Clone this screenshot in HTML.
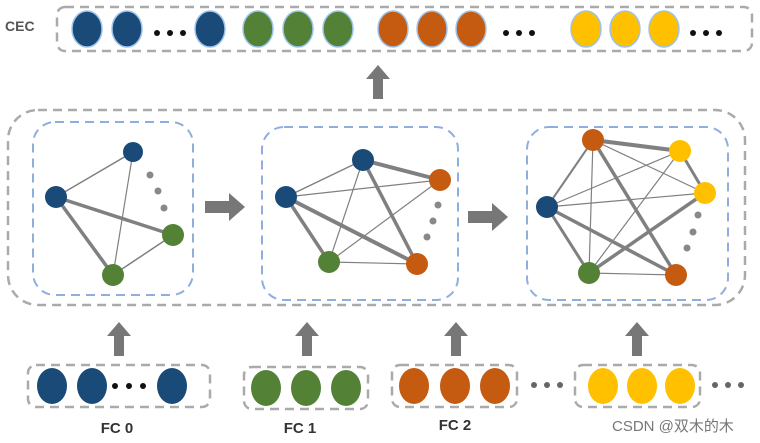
<!DOCTYPE html>
<html><head><meta charset="utf-8"><style>body{margin:0;background:#fff}svg{display:block}</style></head><body>
<svg width="760" height="443" viewBox="0 0 760 443" xmlns="http://www.w3.org/2000/svg" font-family="Liberation Sans, sans-serif">
<defs>
<g id="ua"><rect x="-5" y="12" width="10" height="22" fill="#777"/><polygon points="-12,14 0,0 12,14" fill="#777"/></g>
<g id="ra"><rect x="0" y="-6" width="26" height="12" fill="#777"/><polygon points="24,-14 40,0 24,14" fill="#777"/></g>
</defs>
<g fill="none" stroke="#aaa" stroke-width="2.5" stroke-dasharray="9,6">
<rect x="57" y="7" width="695" height="44" rx="8"/>
<rect x="8" y="110" width="737" height="195" rx="30"/>
<rect x="28" y="365" width="182" height="42" rx="8"/>
<rect x="244" y="367" width="124" height="42" rx="8"/>
<rect x="392" y="365" width="125" height="42" rx="8"/>
<rect x="575" y="365" width="125" height="42" rx="8"/>
</g>
<g fill="none" stroke="#8eaee0" stroke-width="2" stroke-dasharray="9,6">
<rect x="33" y="122" width="160" height="173" rx="22"/>
<rect x="262" y="127" width="196" height="173" rx="22"/>
<rect x="527" y="127" width="201" height="173" rx="22"/>
</g>
<text x="5" y="31" font-size="14" font-weight="bold" fill="#555">CEC</text>
<g stroke="#9cc3ea" stroke-width="1.5">
<g fill="#1a4a78"><ellipse cx="87" cy="29" rx="15" ry="18"/><ellipse cx="127" cy="29" rx="15" ry="18"/><ellipse cx="210" cy="29" rx="15" ry="18"/></g>
<g fill="#538135"><ellipse cx="258" cy="29" rx="15" ry="18"/><ellipse cx="298" cy="29" rx="15" ry="18"/><ellipse cx="338" cy="29" rx="15" ry="18"/></g>
<g fill="#c55a11"><ellipse cx="393" cy="29" rx="15" ry="18"/><ellipse cx="432" cy="29" rx="15" ry="18"/><ellipse cx="471" cy="29" rx="15" ry="18"/></g>
<g fill="#ffc000"><ellipse cx="586" cy="29" rx="15" ry="18"/><ellipse cx="625" cy="29" rx="15" ry="18"/><ellipse cx="664" cy="29" rx="15" ry="18"/></g>
</g>
<g fill="#111">
<circle cx="157" cy="33" r="3"/><circle cx="170" cy="33" r="3"/><circle cx="183" cy="33" r="3"/>
<circle cx="506" cy="33" r="3"/><circle cx="519" cy="33" r="3"/><circle cx="532" cy="33" r="3"/>
<circle cx="693" cy="33" r="3"/><circle cx="706" cy="33" r="3"/><circle cx="719" cy="33" r="3"/>
</g>
<use href="#ua" x="378" y="65"/>
<use href="#ra" x="205" y="207"/>
<use href="#ra" x="468" y="217"/>
<use href="#ua" x="119" y="322"/>
<use href="#ua" x="307" y="322"/>
<use href="#ua" x="456" y="322"/>
<use href="#ua" x="637" y="322"/>
<g stroke="#808080" stroke-linecap="round">
<line x1="56" y1="197" x2="133" y2="152" stroke-width="1.5"/>
<line x1="133" y1="152" x2="113" y2="275" stroke-width="1.2"/>
<line x1="56" y1="197" x2="173" y2="235" stroke-width="3.5"/>
<line x1="56" y1="197" x2="113" y2="275" stroke-width="3.5"/>
<line x1="173" y1="235" x2="113" y2="275" stroke-width="1.5"/>
<line x1="286" y1="197" x2="363" y2="160" stroke-width="1.5"/>
<line x1="286" y1="197" x2="440" y2="180" stroke-width="1.2"/>
<line x1="363" y1="160" x2="440" y2="180" stroke-width="4"/>
<line x1="286" y1="197" x2="417" y2="264" stroke-width="4"/>
<line x1="286" y1="197" x2="329" y2="262" stroke-width="3.5"/>
<line x1="363" y1="160" x2="329" y2="262" stroke-width="1.2"/>
<line x1="329" y1="262" x2="440" y2="180" stroke-width="1.2"/>
<line x1="329" y1="262" x2="417" y2="264" stroke-width="1.2"/>
<line x1="363" y1="160" x2="417" y2="264" stroke-width="3.5"/>
<line x1="593" y1="140" x2="680" y2="151" stroke-width="4"/>
<line x1="680" y1="151" x2="705" y2="193" stroke-width="3"/>
<line x1="547" y1="207" x2="593" y2="140" stroke-width="2"/>
<line x1="547" y1="207" x2="680" y2="151" stroke-width="1.2"/>
<line x1="547" y1="207" x2="705" y2="193" stroke-width="1.2"/>
<line x1="547" y1="207" x2="589" y2="273" stroke-width="3"/>
<line x1="547" y1="207" x2="676" y2="275" stroke-width="3.5"/>
<line x1="593" y1="140" x2="589" y2="273" stroke-width="1.2"/>
<line x1="593" y1="140" x2="676" y2="275" stroke-width="3.5"/>
<line x1="593" y1="140" x2="705" y2="193" stroke-width="1.2"/>
<line x1="589" y1="273" x2="680" y2="151" stroke-width="1.2"/>
<line x1="589" y1="273" x2="705" y2="193" stroke-width="3.5"/>
<line x1="589" y1="273" x2="676" y2="275" stroke-width="1.2"/>
</g>
<g fill="#888">
<circle cx="150" cy="175" r="3.5"/><circle cx="158" cy="191" r="3.5"/><circle cx="164" cy="208" r="3.5"/>
<circle cx="438" cy="205" r="3.5"/><circle cx="433" cy="221" r="3.5"/><circle cx="427" cy="237" r="3.5"/>
<circle cx="698" cy="215" r="3.5"/><circle cx="693" cy="232" r="3.5"/><circle cx="687" cy="248" r="3.5"/>
</g>
<g>
<circle cx="133" cy="152" r="10" fill="#1a4a78"/><circle cx="56" cy="197" r="11" fill="#1a4a78"/>
<circle cx="173" cy="235" r="11" fill="#538135"/><circle cx="113" cy="275" r="11" fill="#538135"/>
<circle cx="363" cy="160" r="11" fill="#1a4a78"/><circle cx="286" cy="197" r="11" fill="#1a4a78"/>
<circle cx="440" cy="180" r="11" fill="#c55a11"/><circle cx="329" cy="262" r="11" fill="#538135"/>
<circle cx="417" cy="264" r="11" fill="#c55a11"/>
<circle cx="593" cy="140" r="11" fill="#c55a11"/><circle cx="680" cy="151" r="11" fill="#ffc000"/>
<circle cx="705" cy="193" r="11" fill="#ffc000"/><circle cx="547" cy="207" r="11" fill="#1a4a78"/>
<circle cx="589" cy="273" r="11" fill="#538135"/><circle cx="676" cy="275" r="11" fill="#c55a11"/>
</g>
<g>
<g fill="#1a4a78"><ellipse cx="52" cy="386" rx="15" ry="18"/><ellipse cx="92" cy="386" rx="15" ry="18"/><ellipse cx="172" cy="386" rx="15" ry="18"/></g>
<g fill="#538135"><ellipse cx="266" cy="388" rx="15" ry="18"/><ellipse cx="306" cy="388" rx="15" ry="18"/><ellipse cx="346" cy="388" rx="15" ry="18"/></g>
<g fill="#c55a11"><ellipse cx="414" cy="386" rx="15" ry="18"/><ellipse cx="455" cy="386" rx="15" ry="18"/><ellipse cx="495" cy="386" rx="15" ry="18"/></g>
<g fill="#ffc000"><ellipse cx="603" cy="386" rx="15" ry="18"/><ellipse cx="642" cy="386" rx="15" ry="18"/><ellipse cx="680" cy="386" rx="15" ry="18"/></g>
</g>
<g fill="#111">
<circle cx="115" cy="386" r="3"/><circle cx="129" cy="386" r="3"/><circle cx="143" cy="386" r="3"/>
</g>
<g fill="#666">
<circle cx="534" cy="385" r="3"/><circle cx="547" cy="385" r="3"/><circle cx="560" cy="385" r="3"/>
<circle cx="715" cy="385" r="3"/><circle cx="728" cy="385" r="3"/><circle cx="741" cy="385" r="3"/>
</g>
<g font-size="15" font-weight="bold" fill="#333" text-anchor="middle">
<text x="117" y="433">FC 0</text><text x="300" y="433">FC 1</text><text x="455" y="430">FC 2</text>
</g>
<text x="612" y="431" font-size="15" fill="#777" font-family="Liberation Sans, Noto Sans CJK SC, sans-serif">CSDN @双木的木</text>
</svg>
</body></html>
